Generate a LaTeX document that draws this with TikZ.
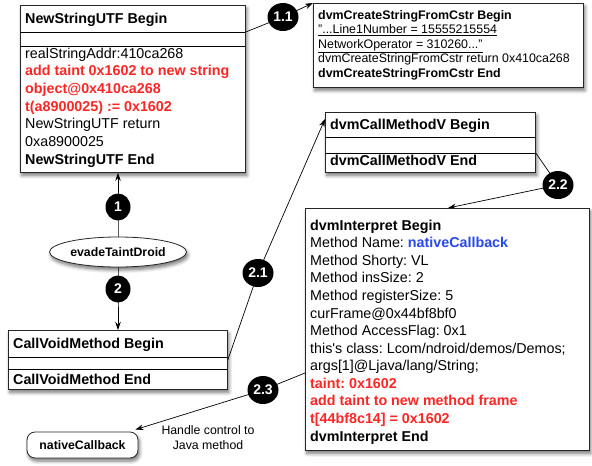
\documentclass[tikz,border=0pt]{standalone}
\usepackage{fontspec}
\setmainfont{Liberation Sans}
\usetikzlibrary{shapes.geometric,shadows.blur,arrows.meta,calc}
\definecolor{taintred}{RGB}{252,38,38}
\definecolor{methblue}{RGB}{40,72,232}
\pgfdeclarelayer{background}
\pgfsetlayers{background,main}
\frenchspacing
\newcommand\bigtxt{\fontsize{14.3}{17.7}\selectfont}
\newcommand\midtxt{\fontsize{12.4}{14.5}\selectfont}
\newcommand\smtxt{\fontsize{12.3}{15}\selectfont}
\begin{document}
\begin{tikzpicture}[x=1pt,y=-1pt,
  shade/.style={blur shadow={shadow xshift=1.5pt, shadow yshift=-3pt,
      shadow blur radius=3.5pt, shadow blur steps=6, shadow opacity=55}},
  box/.style={draw=black!85, line width=0.8pt, fill=white, inner sep=0pt,
      anchor=north west, shade},
  ln/.style={anchor=west, inner sep=0pt, text height=10.3pt, text depth=0pt, font=\bigtxt},
  lnb/.style={ln, font=\bigtxt\bfseries},
  lnr/.style={ln, font=\bigtxt\bfseries, text=taintred},
  lns/.style={anchor=west, inner sep=0pt, text height=8.9pt, text depth=0pt, font=\midtxt},
  lnsb/.style={lns, font=\midtxt\bfseries},
  num/.style={ellipse, fill=black, text=white, inner sep=0pt,
      font=\fontsize{14}{14}\selectfont\bfseries, minimum width=31pt, minimum height=28pt},
  numsm/.style={num, minimum width=25pt, minimum height=27pt},
  conn/.style={line width=0.7pt},
  arr/.style={conn, -{Stealth[length=8pt,width=5.5pt]}}
]
\useasboundingbox (0,0) rectangle (592,466);

% NewStringUTF block
\node[box, minimum width=225pt, minimum height=167pt] (nsu) at (20,5) {};
\draw[line width=0.8pt] (20,32) -- (245,32) (20,46) -- (245,46);
\node[lnb] (nsu0) at (25,18) {NewStringUTF Begin};
\node[ln]  (nsu1) at (25,53) {realStringAddr:410ca268};
\node[lnr] (nsu2) at (25,70.7) {add taint 0x1602 to new string};
\node[lnr] (nsu3) at (25,88.3) {object@0x410ca268};
\node[lnr] (nsu4) at (25,106) {t(a8900025) := 0x1602};
\node[ln]  (nsu5) at (25,123.7) {NewStringUTF return};
\node[ln]  (nsu6) at (25,141.3) {0xa8900025};
\node[lnb] (nsu7) at (25,159) {NewStringUTF End};

% dvmCreateStringFromCstr block
\node[box, minimum width=270pt, minimum height=84pt] (dcs) at (313,3) {};
\node[lnsb] (dcs0) at (318,15) {dvmCreateStringFromCstr Begin};
\node[lns]  (dcs1) at (318,29.5) {\underline{"...Line1Number = 15555215554}};
\node[lns]  (dcs2) at (318,44) {\underline{NetworkOperator = 310260..."}};
\node[lns]  (dcs3) at (318,58.5) {dvmCreateStringFromCstr return 0x410ca268};
\node[lnsb] (dcs4) at (318,73) {dvmCreateStringFromCstr End};

% dvmCallMethodV block
\node[box, minimum width=210pt, minimum height=60pt] (cmv) at (325,112) {};
\draw[line width=0.8pt] (325,137) -- (535,137) (325,153) -- (535,153);
\node[lnb] (cmv0) at (330,124) {dvmCallMethodV Begin};
\node[lnb] (cmv1) at (330,160) {dvmCallMethodV End};

% dvmInterpret block
\node[box, minimum width=284pt, minimum height=242pt] (dvi) at (305,208) {};
\node[lnb] (dvi0)  at (310,225)   {dvmInterpret Begin};
\node[ln]  (dvi1)  at (310,242.6) {Method Name: \textcolor{methblue}{\bfseries nativeCallback}};
\node[ln]  (dvi2)  at (310,260.2) {Method Shorty: VL};
\node[ln]  (dvi3)  at (310,277.7) {Method insSize: 2};
\node[ln]  (dvi4)  at (310,295.3) {Method registerSize: 5};
\node[ln]  (dvi5)  at (310,312.9) {curFrame@0x44bf8bf0};
\node[ln]  (dvi6)  at (310,330.5) {Method AccessFlag: 0x1};
\node[ln]  (dvi7)  at (310,348.1) {this\textquotesingle s class: Lcom/ndroid/demos/Demos;};
\node[ln]  (dvi8)  at (310,365.6) {args[1]@Ljava/lang/String;};
\node[lnr] (dvi9)  at (310,383.2) {taint: 0x1602};
\node[lnr] (dvi10) at (310,400.8) {add taint to new method frame};
\node[lnr] (dvi11) at (310,418.4) {t[44bf8c14] = 0x1602};
\node[lnb] (dvi12) at (310,436)   {dvmInterpret End};

% CallVoidMethod block
\node[box, minimum width=219pt, minimum height=59pt] (cv) at (8,330) {};
\draw[line width=0.8pt] (8,357) -- (227,357) (8,369) -- (227,369);
\node[lnb] (cv0) at (13,343) {CallVoidMethod Begin};
\node[lnb] (cv1) at (13,379) {CallVoidMethod End};

% entry point and callback
\node[ellipse, draw=black!85, line width=0.8pt, fill=white, shade, inner sep=0pt,
      minimum width=137pt, minimum height=30pt, font=\smtxt\bfseries] (evd) at (118,252) {evadeTaintDroid};
\node[draw=black!85, line width=0.8pt, fill=white, shade, rounded corners=8pt,
      minimum width=111pt, minimum height=26pt, inner sep=0pt, font=\smtxt\bfseries] (nc) at (82.5,445) {nativeCallback};
\node[align=center, font=\smtxt, inner sep=0pt] (hint) at (208,437.5) {Handle control to\\Java method};

% step markers
\node[numsm] (s1)  at (118,207) {1};
\node[numsm] (s2)  at (118,289) {2};
\node[num]   (s11) at (283,17)  {1.1};
\node[num]   (s21) at (258,273) {2.1};
\node[num]   (s22) at (558,185) {2.2};
\node[num]   (s23) at (263,390) {2.3};

% connectors
\begin{pgfonlayer}{background}
\draw[arr] (evd.north) -- (s1.center) -- (nsu.south -| evd.north);
\draw[arr] (evd.south) -- (s2.center) -- (cv.north -| evd.south);
\draw[arr] ($(nsu.north east)+(0,27)$) -- (s11.center) -- (dcs.north west);
\draw[arr] ($(cv.north east)+(0,30)$) -- (s21.center) -- ($(cmv.north west)+(0,7)$);
\draw[arr] ($(cmv.north east)+(0,41)$) -- (s22.center) -- ($(dvi.north west)+(143,0)$);
\draw[arr] ($(dvi.north west)+(0,165)$) -- (s23.center) -- ($(nc.north east)+(-3,-2)$);
\end{pgfonlayer}
\end{tikzpicture}
\end{document}
